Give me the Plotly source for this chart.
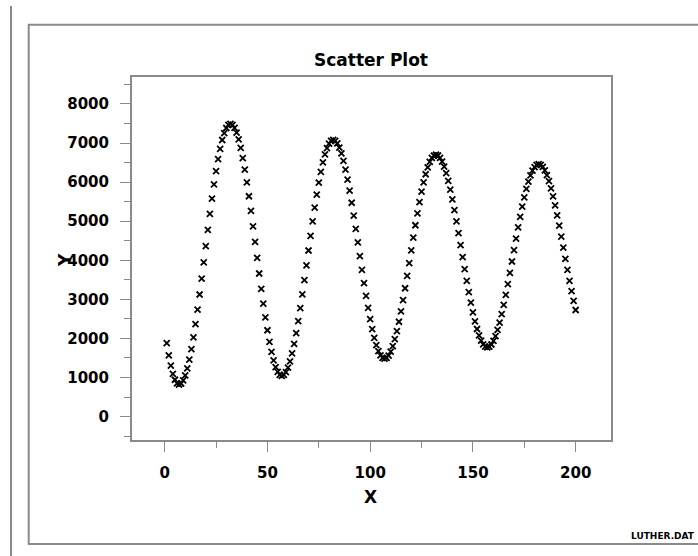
import plotly.graph_objects as go

# ---- data ----
x_values = list(range(1, 201))
y_values = [
    1877, 1565, 1302, 1094, 942, 851, 820,
    846, 925, 1054, 1232, 1457, 1724, 2029, 2368, 2735, 3124, 3530, 3946, 4364, 4780,
    5186, 5575, 5942, 6281, 6586, 6853, 7078, 7256, 7385, 7464, 7490,
    7465, 7389, 7264, 7091, 6874, 6616, 6321, 5993, 5638, 5262, 4869, 4468, 4062, 3661,
    3268, 2892, 2537, 2209, 1914, 1656, 1439, 1266, 1141, 1065, 1040,
    1064, 1135, 1252, 1413, 1617, 1858, 2135, 2442, 2774, 3127, 3494, 3870, 4250, 4626,
    4993, 5346, 5678, 5985, 6262, 6503, 6707, 6868, 6985, 7056, 7080,
    7058, 6992, 6883, 6734, 6545, 6321, 6065, 5780, 5472, 5145, 4805, 4456, 4104, 3755,
    3415, 3088, 2780, 2495, 2239, 2015, 1826, 1677, 1568, 1502, 1480,
    1501, 1562, 1663, 1803, 1979, 2187, 2426, 2692, 2979, 3284, 3601, 3926, 4254, 4579,
    4896, 5201, 5488, 5754, 5993, 6201, 6377, 6517, 6618, 6679, 6700,
    6681, 6623, 6527, 6395, 6229, 6032, 5806, 5556, 5285, 4997, 4697, 4390, 4080, 3773,
    3473, 3185, 2914, 2664, 2438, 2241, 2075, 1943, 1847, 1789, 1770,
    1789, 1844, 1935, 2060, 2218, 2405, 2620, 2859, 3116, 3390, 3675, 3968, 4262, 4554,
    4840, 5113, 5371, 5610, 5825, 6012, 6170, 6295, 6386, 6441, 6460,
    6442, 6388, 6300, 6178, 6025, 5842, 5633, 5402, 5151, 4885, 4607, 4323, 4037, 3753,
    3475, 3209, 2958, 2727,
]
x_ticks = [0, 50, 100, 150, 200]
y_ticks = [0, 1000, 2000, 3000, 4000, 5000, 6000, 7000, 8000]
title_text = "Scatter Plot"
x_title = "X"
y_title = "Y"
file_label = "LUTHER.DAT"

# ---- layout geometry (pixels) ----
W, H = 698, 556
PL, PR, PT, PB = 132, 611, 77, 440   # plot-area box
GRAY = "#8a8a8a"
FONT = "DejaVu Sans, Liberation Sans, Arial, sans-serif"


def px(xp):
    return (xp - PL) / (PR - PL)


def py(yp):
    return (PB - yp) / (PB - PT)


fig = go.Figure()
fig.add_trace(go.Scatter(
    x=x_values, y=y_values, mode="markers",
    marker=dict(symbol="x-thin", size=6, color="black",
                line=dict(color="black", width=1.8)),
    showlegend=False, hoverinfo="x+y",
))

axis_common = dict(
    showgrid=False, zeroline=False, showline=True, mirror=True,
    linecolor=GRAY, linewidth=2, ticks="outside", tickcolor=GRAY,
    ticklen=10, tickwidth=1,
    tickfont=dict(family=FONT, size=15, color="black", weight="bold"),
)

fig.update_xaxes(
    range=[-15.9, 217.2], tickmode="array", tickvals=x_ticks,
    minor=dict(ticks="outside", ticklen=6, tickcolor=GRAY, dtick=25, tick0=0),
    ticklabelstandoff=8,
    **axis_common,
)
fig.update_yaxes(
    range=[-600, 8690], tickmode="array", tickvals=y_ticks,
    minor=dict(ticks="outside", ticklen=6, tickcolor=GRAY, dtick=500, tick0=0),
    ticklabelstandoff=8,
    **axis_common,
)

# outer frame: open on the right (it runs off the picture)
fx0, fy0, fy1 = px(28.7), py(24.7), py(544)
frame_path = (f"M {px(720)} {fy0} L {fx0} {fy0} L {fx0} {fy1} L {px(720)} {fy1}")

shapes = [
    dict(type="line", xref="paper", yref="paper",
         x0=px(11), x1=px(11), y0=py(6), y1=py(560),
         line=dict(color=GRAY, width=2)),
    dict(type="path", xref="paper", yref="paper", path=frame_path,
         line=dict(color=GRAY, width=2), layer="below"),
]

annotations = [
    dict(text=title_text, xref="paper", yref="paper", x=px(370.5), y=py(60),
         showarrow=False, xanchor="center", yanchor="middle",
         font=dict(family=FONT, size=17, color="black", weight="bold")),
    dict(text=x_title, xref="paper", yref="paper", x=px(370), y=py(497),
         showarrow=False, xanchor="center", yanchor="middle",
         font=dict(family=FONT, size=17, color="black", weight="bold")),
    dict(text=y_title, xref="paper", yref="paper", x=px(65), y=py(260),
         showarrow=False, xanchor="center", yanchor="middle", textangle=-90,
         font=dict(family=FONT, size=17, color="black", weight="bold")),
    dict(text=file_label, xref="paper", yref="paper", x=px(697), y=py(536),
         showarrow=False, xanchor="right", yanchor="middle",
         font=dict(family=FONT, size=9, color="black", weight="bold")),
]

fig.update_layout(
    width=W, height=H,
    margin=dict(l=PL, r=W - PR, t=PT, b=H - PB, pad=0),
    paper_bgcolor="white", plot_bgcolor="white",
    shapes=shapes, annotations=annotations,
)

fig.write_html(
    "out.html",
    config={"displayModeBar": False},
    post_script="document.body.style.margin='0';document.body.style.overflow='hidden';",
)
